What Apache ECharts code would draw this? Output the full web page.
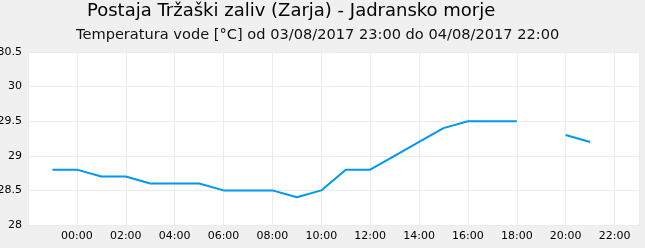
<!DOCTYPE html>
<html><head><meta charset="utf-8">
<script src="https://cdn.jsdelivr.net/npm/echarts@6/dist/echarts.min.js"></script>
<style>html,body{margin:0;padding:0;background:#f0f0f0}#c{width:645px;height:248px}</style>
</head><body><div id="c"></div>
<script>
// hours relative to 04/08/2017 00:00 (first reading 03/08/2017 23:00)
const hours = [-1,0,1,2,3,4,5,6,7,8,9,10,11,12,13,14,15,16,17,18,19,20,21];
const temps = [28.8,28.8,28.7,28.7,28.6,28.6,28.6,28.5,28.5,28.5,28.4,28.5,28.8,28.8,29.0,29.2,29.4,29.5,29.5,29.5,null,29.3,29.2];
const yTicks = ['28','28.5','29','29.5','30','30.5'];
const titleText = 'Postaja Tržaški zaliv (Zarja) - Jadransko morje';
const subtitleText = 'Temperatura vode [°C] od 03/08/2017 23:00 do 04/08/2017 22:00';

const pad = n => (n < 10 ? '0' : '') + n;
const chart = echarts.init(document.getElementById('c'), null, {renderer: 'canvas'});
chart.setOption({
  backgroundColor: '#f0f0f0',
  animation: false,
  title: [
    {text: titleText, left: 82, top: -3, padding: 5, textStyle: {fontFamily: 'DejaVu Sans', fontSize: 18, fontWeight: 'normal', color: '#000'}},
    {text: subtitleText, left: 71, top: 23, padding: 5, textStyle: {fontFamily: 'DejaVu Sans', fontSize: 14.6, fontWeight: 'normal', color: '#111'}}
  ],
  grid: {left: 28, right: 6, top: 52, bottom: 23, containLabel: false, outerBoundsMode: 'none',
         show: true, backgroundColor: '#fff', borderWidth: 0},
  xAxis: {
    type: 'value', min: -2, max: 23, interval: 2,
    axisLine: {show: false}, axisTick: {show: false},
    splitLine: {show: true, lineStyle: {color: '#ebebeb', width: 1}},
    axisLabel: {
      margin: 6, color: '#000', fontFamily: 'DejaVu Sans', fontSize: 11,
      showMinLabel: false, showMaxLabel: false,
      formatter: v => pad(((v % 24) + 24) % 24) + ':00'
    }
  },
  yAxis: {
    type: 'value', min: 28, max: 30.5, interval: 0.5,
    axisLine: {show: false}, axisTick: {show: false},
    splitLine: {show: true, lineStyle: {color: '#ebebeb', width: 1}},
    axisLabel: {
      margin: 6, color: '#000', fontFamily: 'DejaVu Sans', fontSize: 11,
      formatter: (v) => yTicks.find(t => Math.abs(parseFloat(t) - v) < 1e-6) || String(v)
    }
  },
  series: [{
    type: 'line',
    data: hours.map((h, i) => [h, temps[i]]),
    showSymbol: false, symbol: 'none',
    connectNulls: false,
    lineStyle: {color: '#0098ee', width: 2},
    itemStyle: {color: '#0098ee'}
  }]
});
</script></body></html>
